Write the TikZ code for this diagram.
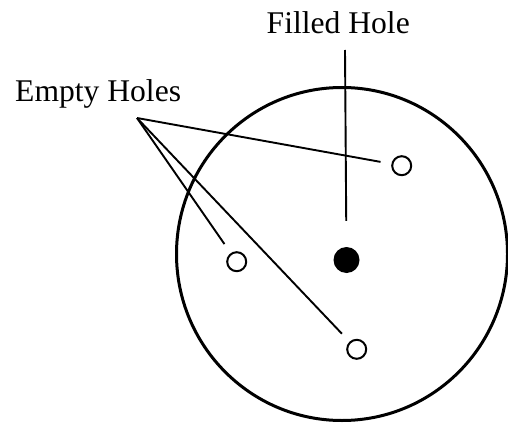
\documentclass[tikz,border=0pt]{standalone}
\usepackage{fontspec}
\setmainfont{Liberation Serif}
\begin{document}
\begin{tikzpicture}[x=1pt,y=-1pt,
  lbl/.style={inner sep=0pt,font=\fontsize{31.6}{36}\selectfont},
  emptyhole/.style={circle,draw,line width=2pt,minimum size=19pt,inner sep=0pt},
  filledhole/.style={circle,fill=black,minimum size=26pt,inner sep=0pt},
  leader/.style={line width=1.9pt}]
\useasboundingbox (0,0) rectangle (508,425);
\clip (0,0) rectangle (508,425);
\draw[line width=3pt] (342,254) ellipse [x radius=165.5, y radius=166.5];
\node[lbl,anchor=base west] (fl) at (266.5,34) {Filled Hole};
\node[lbl,anchor=base west] (el) at (15,101.5) {Empty Holes};
\node[filledhole] (f) at (346.5,260) {};
\node[emptyhole] (a) at (401.7,165.7) {};
\node[emptyhole] (b) at (236.7,261.7) {};
\node[emptyhole] (c) at (356.7,349.3) {};
\coordinate (apex) at (137,118);
\coordinate (ftop) at (345,50);
\draw[leader,shorten >=26pt] (ftop) -- (f);
\draw[leader,shorten >=11pt] (apex) -- (a);
\draw[leader,shorten >=11pt] (apex) -- (b);
\draw[leader,shorten >=11pt] (apex) -- (c);
\end{tikzpicture}
\end{document}
